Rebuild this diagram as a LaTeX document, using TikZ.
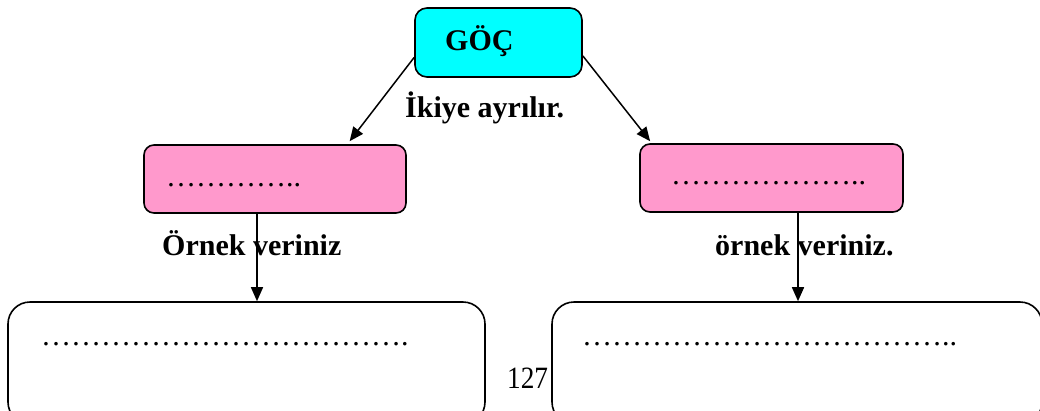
\documentclass[tikz,border=0pt]{standalone}
\usepackage{fontspec}
\setmainfont{Liberation Serif}
\usetikzlibrary{arrows.meta}
\definecolor{gocblue}{RGB}{0,255,255}
\definecolor{typepink}{RGB}{255,153,204}
\begin{document}
\begin{tikzpicture}[x=1pt,y=-1pt,
        box/.style={draw=black,line width=1.6pt,inner sep=0pt},
        arr/.style={-{Triangle[length=14pt,width=12pt]},line width=1.5pt},
        bold/.style={font=\bfseries\fontsize{30}{36}\selectfont,inner sep=0pt},
        dots/.style={font=\fontsize{30}{36}\selectfont,inner sep=0pt}]
\useasboundingbox (0,0) rectangle (1040,410);
\clip (0,0) rectangle (1040,410);

% boxes
\node[box,fill=gocblue,rounded corners=12pt,minimum width=167pt,minimum height=69pt] (goc) at (498.5,42.5) {};
\node[box,fill=typepink,rounded corners=10pt,minimum width=262pt,minimum height=68pt] (left) at (275,179) {};
\node[box,fill=typepink,rounded corners=10pt,minimum width=263pt,minimum height=68pt] (right) at (771.5,178) {};
\node[box,rounded corners=22pt,minimum width=477pt,minimum height=122pt] (exa) at (246.5,363) {};
\node[box,rounded corners=22pt,minimum width=490pt,minimum height=122pt] (exb) at (797,363) {};

% texts
\node[bold,anchor=base west] (goctext) at (445,50) {GÖÇ};
\node[bold,anchor=base west] (split) at (405,117) {İkiye ayrılır.};
\node[dots,anchor=base west] (lefttext) at (166,186) {…………..};
\node[dots,anchor=base west] (righttext) at (671,184) {………………..};
\node[bold,anchor=base west] (exatext) at (162,255) {Örnek veriniz};
\node[bold,anchor=base west] (exbtext) at (715,255) {örnek veriniz.};
\node[dots,anchor=base west] (exadots) at (41,345) {……………………………….};
\node[dots,anchor=base west] (exbdots) at (582,345) {………………………………..};
\node[font=\fontsize{31}{36}\selectfont,inner sep=0pt,anchor=base west] (page) at (507,388) {\scalebox{0.88}[1]{127}};

% arrows
\draw[arr] (goc.190.5) -- ([yshift=3pt]left.25);
\draw[arr] (goc.351.5) -- ([yshift=2pt]right.164);
\draw[arr] ([xshift=-18pt]left.south) -- ([xshift=-18pt]left.south |- exa.north);
\draw[arr] ([xshift=26.5pt]right.south) -- ([xshift=26.5pt]right.south |- exb.north);

\end{tikzpicture}
\end{document}
